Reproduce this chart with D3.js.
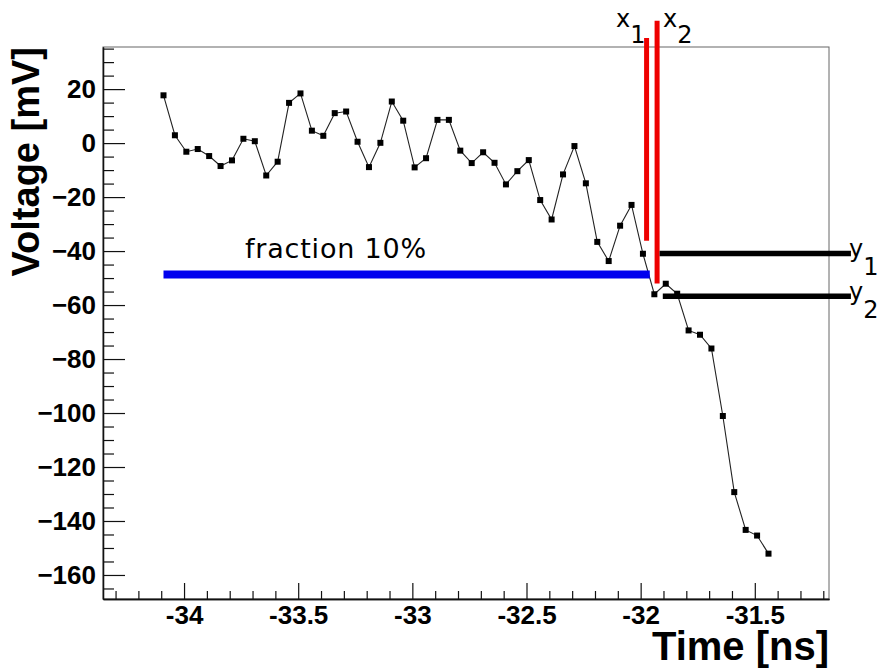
<!DOCTYPE html>
<html>
<head>
<meta charset="utf-8">
<script src="https://cdn.jsdelivr.net/npm/d3@7"></script>
<style>
  body { margin: 0; background: #fff; }
  svg { display: block; }
  .tick text { font-family: "Liberation Sans", Arial, sans-serif; font-weight: bold; }
</style>
</head>
<body>
<svg id="chart" width="878" height="669"></svg>
<script>
// sampled waveform (time in ns, voltage in mV)
const times = [-34.09, -34.04, -33.99, -33.94, -33.89, -33.84, -33.79, -33.74, -33.69, -33.64,
  -33.59, -33.54, -33.49, -33.44, -33.39, -33.34, -33.29, -33.24, -33.19, -33.14,
  -33.09, -33.04, -32.99, -32.94, -32.89, -32.84, -32.79, -32.74, -32.69, -32.64,
  -32.59, -32.54, -32.49, -32.44, -32.39, -32.34, -32.29, -32.24, -32.19, -32.14,
  -32.09, -32.04, -31.99, -31.94, -31.89, -31.84, -31.79, -31.74, -31.69, -31.64,
  -31.59, -31.54, -31.49, -31.44]
const voltages = [17.7, 2.9, -3.2, -2.2, -4.8, -8.5, -6.4, 1.6, 0.7, -12.0,
  -6.9, 14.9, 18.4, 4.6, 2.7, 11.1, 11.7, 0.5, -8.9, 0.1,
  15.4, 8.3, -9.0, -5.6, 8.6, 8.6, -2.8, -7.4, -3.4, -7.3,
  -15.3, -10.4, -6.3, -21.1, -28.3, -11.6, -1.1, -14.9, -36.6, -43.7,
  -30.6, -22.9, -41.0, -56.0, -52.1, -55.8, -69.4, -71.0, -76.1, -101.1,
  -129.3, -143.3, -145.4, -152.1]

const xTicks = [-34, -33.5, -33, -32.5, -32, -31.5]
const xTickLabels = ["-34", "-33.5", "-33", "-32.5", "-32", "-31.5"]
const yTicks = [20, 0, -20, -40, -60, -80, -100, -120, -140, -160]

// annotation markers
const fractionLevel = -48.7, fractionRange = [-34.09, -31.96]
const x1Time = -31.974, x1Range = [38.9, -36.2]
const x2Time = -31.928, x2Range = [45.3, -52.0]
const y1Level = -40.9, y1Range = [-31.917, -31.079]
const y2Level = -56.7, y2Range = [-31.903, -31.079]

const frame = {left: 103, right: 829, top: 47, bottom: 599}

const svg = d3.select("#chart")

const x = d3.scaleLinear().domain([-34.355, -31.175]).range([frame.left, frame.right])
const y = d3.scaleLinear().domain([-168.9, 35.6]).range([frame.bottom, frame.top])

// frame
svg.append("rect")
  .attr("x", frame.left).attr("y", frame.top)
  .attr("width", frame.right - frame.left).attr("height", frame.bottom - frame.top)
  .attr("fill", "none").attr("stroke", "#666").attr("stroke-width", 1)

// minor ticks
const xMinor = d3.range(-34.3, -31.15, 0.1).filter(v => !xTicks.some(t => Math.abs(t - v) < 1e-6))
const yMinor = d3.range(-165, 36, 5).filter(v => v % 20 !== 0)

svg.append("g")
  .attr("transform", `translate(0,${frame.bottom})`)
  .call(d3.axisBottom(x).tickValues(xMinor).tickSizeInner(-8).tickSizeOuter(0).tickFormat(""))
svg.append("g")
  .attr("transform", `translate(${frame.left},0)`)
  .call(d3.axisLeft(y).tickValues(yMinor).tickSizeInner(-11).tickSizeOuter(0).tickFormat(""))

const xAxis = svg.append("g")
  .attr("transform", `translate(0,${frame.bottom})`)
  .call(d3.axisBottom(x).tickValues(xTicks).tickSizeInner(-16).tickSizeOuter(0).tickPadding(7)
    .tickFormat((d, i) => xTickLabels[i]))
xAxis.selectAll(".tick text").attr("font-size", 26)

const yAxis = svg.append("g")
  .attr("transform", `translate(${frame.left},0)`)
  .call(d3.axisLeft(y).tickValues(yTicks).tickSizeInner(-22).tickSizeOuter(0).tickPadding(7))
yAxis.selectAll(".tick text").attr("font-size", 26)

svg.selectAll(".domain").attr("stroke", "#111").attr("stroke-width", 1.3)
svg.selectAll(".tick line").attr("stroke", "#111").attr("stroke-width", 1.2)

// axis titles
svg.append("text")
  .attr("x", frame.right).attr("y", 660)
  .attr("text-anchor", "end")
  .attr("font-family", "Liberation Sans, Arial, sans-serif").attr("font-weight", "bold")
  .attr("font-size", 40)
  .text("Time [ns]")

svg.append("text")
  .attr("transform", `translate(39,${frame.top}) rotate(-90)`)
  .attr("text-anchor", "end")
  .attr("font-family", "Liberation Sans, Arial, sans-serif").attr("font-weight", "bold")
  .attr("font-size", 38)
  .text("Voltage [mV]")

// waveform
const line = d3.line().x((d, i) => x(times[i])).y(d => y(d))
svg.append("path")
  .datum(voltages)
  .attr("d", line)
  .attr("fill", "none").attr("stroke", "#222").attr("stroke-width", 1.1)

svg.append("g").selectAll("rect")
  .data(voltages)
  .join("rect")
    .attr("x", (d, i) => x(times[i]) - 3)
    .attr("y", d => y(d) - 3)
    .attr("width", 6).attr("height", 6)
    .attr("fill", "#000")

// fraction line
svg.append("line")
  .attr("x1", x(fractionRange[0])).attr("x2", x(fractionRange[1]))
  .attr("y1", y(fractionLevel)).attr("y2", y(fractionLevel))
  .attr("stroke", "#0000ee").attr("stroke-width", 8)

const labelFont = "DejaVu Sans, sans-serif"
svg.append("text")
  .attr("x", 245).attr("y", 258)
  .attr("font-family", labelFont).attr("font-size", 27).attr("letter-spacing", 0.8)
  .text("fraction 10%")

// x1 / x2 markers
svg.append("line")
  .attr("x1", x(x1Time)).attr("x2", x(x1Time))
  .attr("y1", y(x1Range[0])).attr("y2", y(x1Range[1]))
  .attr("stroke", "#ee0000").attr("stroke-width", 5)
svg.append("line")
  .attr("x1", x(x2Time)).attr("x2", x(x2Time))
  .attr("y1", y(x2Range[0])).attr("y2", y(x2Range[1]))
  .attr("stroke", "#ee0000").attr("stroke-width", 5)

// y1 / y2 markers
svg.append("line")
  .attr("x1", x(y1Range[0])).attr("x2", x(y1Range[1]))
  .attr("y1", y(y1Level)).attr("y2", y(y1Level))
  .attr("stroke", "#000").attr("stroke-width", 5.5)
svg.append("line")
  .attr("x1", x(y2Range[0])).attr("x2", x(y2Range[1]))
  .attr("y1", y(y2Level)).attr("y2", y(y2Level))
  .attr("stroke", "#000").attr("stroke-width", 5.5)

function subLabel(px, py, main, sub, size, drop) {
  const t = svg.append("text")
    .attr("x", px).attr("y", py)
    .attr("font-family", labelFont).attr("font-size", size)
  t.append("tspan").text(main)
  t.append("tspan").attr("dx", 0).attr("dy", drop).text(sub)
}
subLabel(616, 27, "x", "1", 24, 16)
subLabel(663, 27, "x", "2", 24, 16)
subLabel(849, 257, "y", "1", 24, 18)
subLabel(849, 300, "y", "2", 24, 18)
</script>
</body>
</html>
